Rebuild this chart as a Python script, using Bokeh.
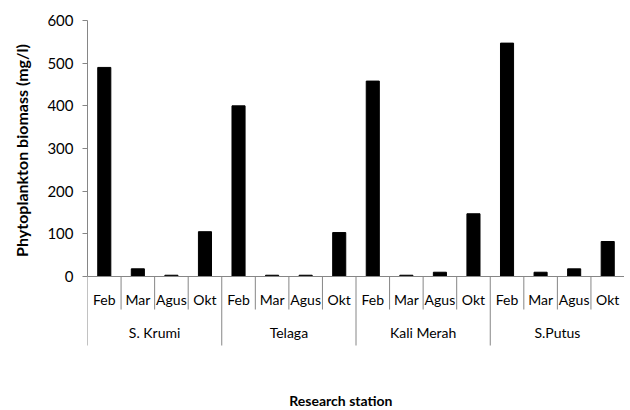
import math
from bokeh.plotting import figure
from bokeh.layouts import row
from bokeh.models import Range1d, FixedTicker, LinearAxis, ColumnDataSource
from bokeh.core.properties import value
from bokeh.embed import file_html
from bokeh.resources import INLINE

stations = ["S. Krumi", "Telaga", "Kali Merah", "S.Putus"]
months = ["Feb", "Mar", "Agus", "Okt"]
s_krumi = [490, 18, 3, 105]
telaga = [400, 3, 3, 103]
kali_merah = [458, 3, 10, 147]
s_putus = [547, 10, 18, 82]
y_ticks = [0, 100, 200, 300, 400, 500, 600]

series = [s_krumi, telaga, kali_merah, s_putus]

LW = 34                 # width of the strip holding the y title
W, H = 624 - LW, 410
TOP = 20
LEFT = 87 - LW
ZERO_PX = 276           # pixel row of y=0 inside figure
Y_MAX = 600
upp = Y_MAX / (ZERO_PX - TOP)   # data units per pixel
Y_MIN = -(H - ZERO_PX) * upp

FONT = "Lato"
GRAY = "#868686"

n_m = len(months)
n_all = len(stations) * n_m

# ---- strip with the rotated y-axis title
t = figure(width=LW, height=H, output_backend="svg", toolbar_location=None,
           x_range=Range1d(0, LW), y_range=Range1d(Y_MIN, Y_MAX),
           x_axis_location=None, y_axis_location=None,
           min_border_top=TOP, min_border_bottom=0, min_border_left=0,
           min_border_right=0)
t.outline_line_color = None
t.grid.visible = False
t.text(x=[20.5], y=[Y_MAX / 2 - 2 * upp], text=["Phytoplankton biomass (mg/l)"],
       angle=math.pi / 2, text_align="center", text_baseline="middle",
       text_font=value(FONT), text_font_style="bold", text_font_size="16px",
       text_color="black")

# ---- main chart
p = figure(width=W, height=H, output_backend="svg", toolbar_location=None,
           x_range=Range1d(0, n_all), y_range=Range1d(Y_MIN, Y_MAX),
           x_axis_location=None, y_axis_location=None,
           min_border_top=TOP, min_border_bottom=0, min_border_right=0,
           min_border_left=LEFT)
p.outline_line_color = None
p.grid.visible = False
p.background_fill_color = "white"
p.border_fill_color = "white"

yax = LinearAxis(bounds=(0, Y_MAX), ticker=FixedTicker(ticks=y_ticks))
yax.major_label_text_font = FONT
yax.major_label_text_font_size = "15px"
yax.major_label_text_color = "black"
yax.major_label_standoff = 9
yax.axis_line_color = GRAY
yax.major_tick_line_color = GRAY
yax.major_tick_out = 5
yax.major_tick_in = 0
yax.minor_tick_line_color = None
p.add_layout(yax, "left")

# bars
xs, tops, labs = [], [], []
for si, vals in enumerate(series):
    for mi, v in enumerate(vals):
        xs.append(si * n_m + mi + 0.5)
        tops.append(v)
        labs.append(months[mi])
src = ColumnDataSource(dict(x=xs, top=tops, lab=labs))
p.vbar(x="x", top="top", bottom=0, width=0.39, source=src,
       fill_color="black", line_color="black")

# x axis line
p.segment(x0=[0], y0=[0], x1=[n_all], y1=[0], line_color=GRAY, line_width=1)

# separators
sx, sy1 = [], []
for k in range(n_all + 1):
    sx.append(k)
    sy1.append(-69 * upp if k % n_m == 0 else -33 * upp)
p.segment(x0=sx, y0=[0] * len(sx), x1=sx, y1=sy1, line_color=GRAY, line_width=1)

# month labels
p.text(x="x", y=-23 * upp, text="lab", source=src, text_align="center",
       text_baseline="middle", text_font=value(FONT), text_font_size="14px",
       text_color="black")

# station labels
gx = [si * n_m + n_m / 2 for si in range(len(stations))]
p.text(x=gx, y=[-56 * upp] * len(gx), text=stations, text_align="center",
       text_baseline="middle", text_font=value(FONT), text_font_size="14px",
       text_color="black")

# x axis title
p.text(x=[(n_all / 2) - 0.45], y=[-124 * upp], text=["Research station"],
       text_align="center", text_baseline="middle", text_font=value(FONT),
       text_font_style="bold", text_font_size="14px", text_color="black")

layout = row(t, p, spacing=0)
open("out.html", "w").write(file_html(layout, INLINE))
